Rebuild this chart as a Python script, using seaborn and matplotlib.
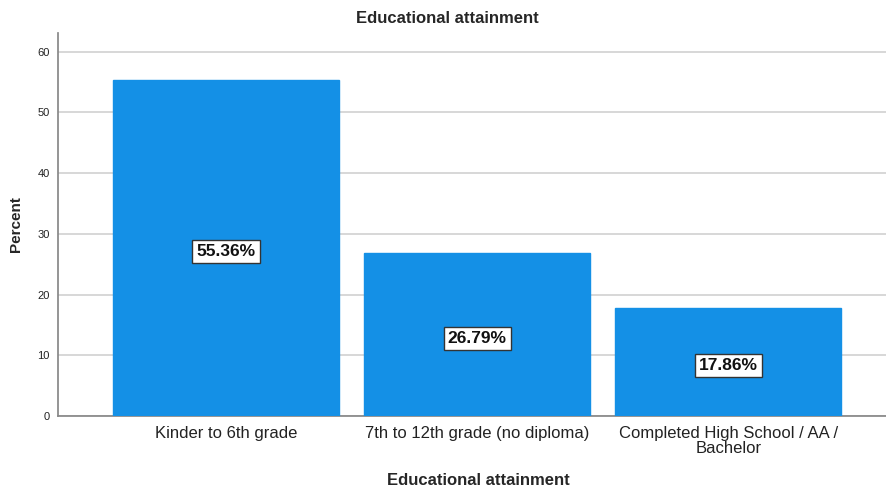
import matplotlib
matplotlib.use("Agg")
import matplotlib.pyplot as plt
import seaborn as sns
import pandas as pd

categories = ["Kinder to 6th grade", "7th to 12th grade (no diploma)", "Completed High School / AA /\nBachelor"]
percent = [55.36, 26.79, 17.86]
yticks = [0, 10, 20, 30, 40, 50, 60]

sns.set_theme(style="white")
plt.rcParams['font.family'] = ['Liberation Sans', 'DejaVu Sans']

df = pd.DataFrame({"cat": categories, "pct": percent})

fig = plt.figure(figsize=(8.87, 4.9), dpi=100)
ax = fig.add_axes([0.0654, 0.151, 0.934, 0.7817])
sns.barplot(data=df, x="cat", y="pct", color="#1490E6", saturation=1, width=0.9,
            edgecolor="#1490E6", ax=ax, zorder=3)
ax.set_ylim(0, 63.1)
ax.set_xlim(-0.67, 2.63)
ax.set_yticks(yticks)
ax.set_yticklabels([str(t) for t in yticks], fontsize=8, color="#222222")
ax.grid(axis="y", color="#d4d4d4", linewidth=1.3, zorder=0)
ax.set_axisbelow(True)
for s in ["top", "right"]:
    ax.spines[s].set_visible(False)
ax.spines["left"].set_color("#888888")
ax.spines["bottom"].set_color("#888888")
ax.tick_params(axis="x", length=0, pad=7)
ax.tick_params(axis="y", length=0, pad=6)
for lbl in ax.get_xticklabels():
    lbl.set_fontsize(12)
    lbl.set_color("#222222")
    lbl.set_linespacing(1.05)

for i, v in enumerate(percent):
    ax.annotate(f"{v:.2f}%", xy=(i, v / 2), xytext=(0, -2.5), textcoords="offset points",
                ha="center", va="center", fontsize=12.5, fontweight="bold",
                color="#111111", zorder=5,
                bbox=dict(boxstyle="square,pad=0.24", facecolor="white", edgecolor="#333333", linewidth=1))

ax.set_xlabel("Educational attainment", fontsize=12, fontweight="bold")
ax.xaxis.set_label_coords(0.507, -0.148)
ax.set_ylabel("Percent", fontsize=11, fontweight="bold", labelpad=10)
fig.text(0.504, 0.962, "Educational attainment", ha="center", va="center", fontsize=12, fontweight="bold")

fig.savefig("out.png", dpi=100)
